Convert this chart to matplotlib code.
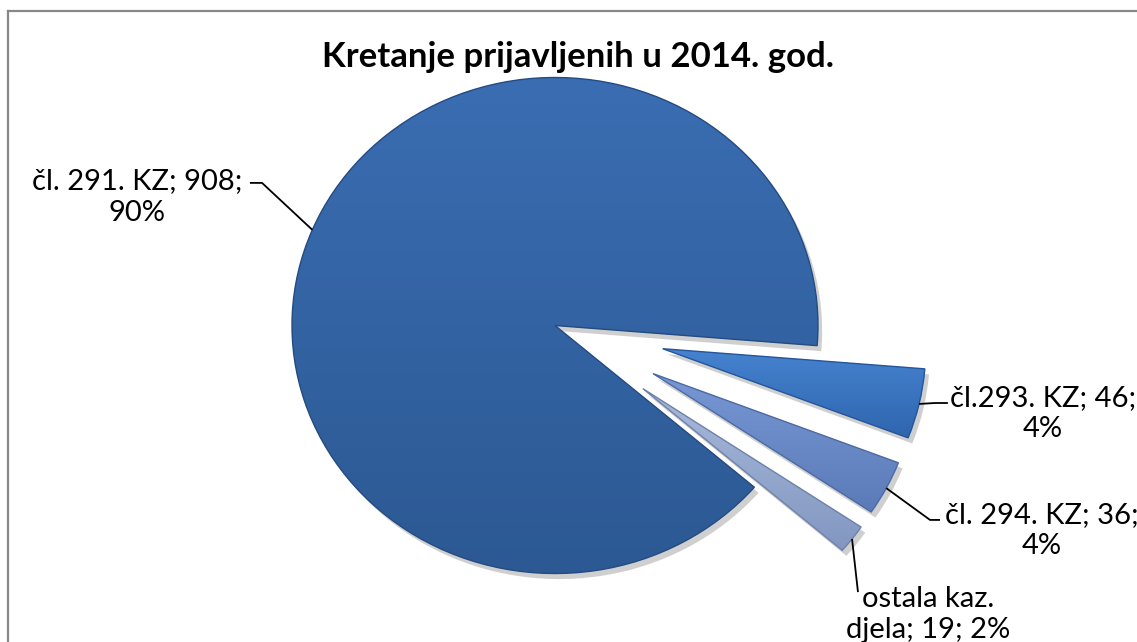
import numpy as np
import matplotlib
matplotlib.use("Agg")
import matplotlib.pyplot as plt
from matplotlib.patches import PathPatch
from matplotlib.lines import Line2D
from matplotlib.colors import to_rgb
import matplotlib.patheffects as pe

# ---- data ----
categories = ["čl. 291. KZ", "čl.293. KZ", "čl. 294. KZ", "ostala kaz.\ndjela"]
values = [908, 46, 36, 19]
percents = ["90%", "4%", "4%", "2%"]
title = "Kretanje prijavljenih u 2014. god."

# ---- style ----
explode = [0.0, 0.42, 0.42, 0.42]
top_colors = ["#3A6DB2", "#4783D0", "#7798D4", "#A8B9DA"]
bot_colors = ["#2C5993", "#2E65AE", "#5A7BB8", "#8297C1"]
edge_colors = ["#254C82", "#25569A", "#4D6AA4", "#6F82AA"]

plt.rcParams['font.family'] = ['Lato', 'DejaVu Sans']

W, H = 1137, 642
fig = plt.figure(figsize=(W / 100, H / 100), dpi=100)
ax = fig.add_axes([0, 0, 1, 1])

cx, cy, rx, ry = 555.0, 325.5, 263.0, 248.0

wedges, _ = ax.pie(values, explode=explode, startangle=-40.7, counterclock=False,
                   radius=1.0, center=(0, 0),
                   wedgeprops=dict(linewidth=0))
ax.set_aspect('auto')
ax.set_xlim(-cx / rx, (W - cx) / rx)
ax.set_ylim((cy - H) / ry, cy / ry)
ax.axis('off')

def lerp(c1, c2, t):
    a, b = np.array(to_rgb(c1)), np.array(to_rgb(c2))
    return a + (b - a) * t

for i, w in enumerate(wedges):
    w.set_facecolor(bot_colors[i])
    w.set_edgecolor('none')
    w.set_path_effects([pe.SimplePatchShadow(offset=(3, -4), shadow_rgbFace='#777777', alpha=0.35),
                        pe.Normal()])
    path = w.get_path()
    ext = path.get_extents()
    x0, y0, x1, y1 = ext.x0, ext.y0, ext.x1, ext.y1
    n = 200
    t = np.linspace(0, 1, n)
    grad = np.array([lerp(top_colors[i], bot_colors[i], tt) for tt in t])[:, None, :]
    im = ax.imshow(grad, extent=(x0, x1, y0, y1), aspect='auto', origin='upper',
                   zorder=w.get_zorder() + 0.1, interpolation='bilinear')
    im.set_clip_path(w)
    ax.add_patch(PathPatch(path, fill=False, ec=edge_colors[i], lw=1.0,
                           zorder=w.get_zorder() + 0.2))

def outer_mid(w):
    th = np.deg2rad((w.theta1 + w.theta2) / 2)
    c = w.center
    return c[0] + w.r * np.cos(th), c[1] + w.r * np.sin(th)

# label layout positions (data units)
label_pos = [(-1.589, 0.518), (1.856, -0.355), (1.852, -0.827), (1.420, -1.165)]
elbows = [[(-1.114, 0.575), (-1.160, 0.575)],
          [(1.445, -0.3125), (1.494, -0.3125)],
          [(1.426, -0.784), (1.464, -0.784)],
          [(1.152, -1.075)]]

texts = [f"{categories[0]}; {values[0]};\n{percents[0]}",
         f"{categories[1]}; {values[1]};\n{percents[1]}",
         f"{categories[2]}; {values[2]};\n{percents[2]}",
         f"ostala kaz.\ndjela; {values[3]}; {percents[3]}"]

for i, w in enumerate(wedges):
    sx, sy = outer_mid(w)
    pts = [(sx, sy)] + elbows[i]
    xs, ys = zip(*pts)
    ax.plot(xs, ys, color='black', lw=1.3, zorder=10, solid_capstyle='butt')
    ax.text(label_pos[i][0], label_pos[i][1], texts[i], ha='center', va='center',
            multialignment='center', fontsize=21, linespacing=1.25, color='black', zorder=11)

fig.text(0.508, 1 - 57 / H, title, ha='center', va='center', fontsize=25,
         fontweight='bold', color='black')

ytop = 1 - 11 / H
xl = 8 / W
fig.add_artist(Line2D([xl, 1.0], [ytop, ytop], transform=fig.transFigure, color='#888888', lw=1.6))
fig.add_artist(Line2D([xl, xl], [0, ytop], transform=fig.transFigure, color='#888888', lw=1.6))

fig.savefig("out.png", dpi=100, facecolor='white')
